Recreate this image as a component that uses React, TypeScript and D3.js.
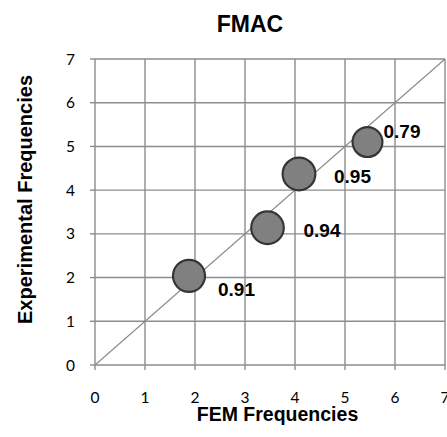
import React from 'react';
import * as d3 from 'd3';

// FEM vs experimental frequencies, bubble size = FMAC value
const femFreq = [1.88, 3.45, 4.08, 5.45];
const expFreq = [2.04, 3.14, 4.37, 5.10];
const fmacValues = [0.91, 0.94, 0.95, 0.79];
const fmacLabels = ['0.91', '0.94', '0.95', '0.79'];
const axisTicks = [0, 1, 2, 3, 4, 5, 6, 7];

// where each data label sits relative to its bubble
const labelOffsets = [
  [29, 20],
  [36, 9],
  [35, 9],
  [16, -4],
];

const W = 447;
const H = 437;
const margin = { top: 59, right: 2, bottom: 72, left: 95 };

export default function App() {
  const x = d3.scaleLinear().domain([0, 7]).range([margin.left, W - margin.right]);
  const y = d3.scaleLinear().domain([0, 7]).range([H - margin.bottom, margin.top]);
  const r = d3.scaleSqrt().domain([0, 1]).range([0, 16.8]);

  const gridColor = '#8c8c8c';
  const boldFont = '"Liberation Sans", Arial, sans-serif';
  const tickFont = 'Lato, "Open Sans", sans-serif';

  const diag = d3.line<number>()
    .x(d => x(d))
    .y(d => y(d));

  return (
    <svg width={W} height={H} style={{ position: 'absolute', left: 0, top: 0, background: '#fff' }}>
      {/* title */}
      <text x={250} y={31.5} textAnchor="middle" fontFamily={boldFont} fontWeight="bold" fontSize={23}>FMAC</text>

      {/* gridlines */}
      {axisTicks.map(t => (
        <line key={'gx' + t} x1={x(t)} x2={x(t)} y1={y(0)} y2={y(7)} stroke={gridColor} strokeWidth={1.4} />
      ))}
      {axisTicks.map(t => (
        <line key={'gy' + t} x1={x(0)} x2={x(7)} y1={y(t)} y2={y(t)} stroke={gridColor} strokeWidth={1.4} />
      ))}

      {/* tick marks */}
      {axisTicks.map(t => (
        <line key={'tx' + t} x1={x(t)} x2={x(t)} y1={y(0)} y2={y(0) + 5} stroke={gridColor} strokeWidth={1.4} />
      ))}
      {axisTicks.map(t => (
        <line key={'ty' + t} x1={x(0) - 5} x2={x(0)} y1={y(t)} y2={y(t)} stroke={gridColor} strokeWidth={1.4} />
      ))}

      {/* tick labels */}
      {axisTicks.map(t => (
        <text key={'lx' + t} x={x(t)} y={403} textAnchor="middle" fontFamily={tickFont} fontSize={15.5} fill="#000">{t}</text>
      ))}
      {axisTicks.map(t => (
        <text key={'ly' + t} x={75} y={y(t)} dy="0.36em" textAnchor="end" fontFamily={tickFont} fontSize={15.5} fill="#000">{t}</text>
      ))}

      {/* 1:1 line */}
      <path d={diag([0, 7]) || ''} stroke="#8a8a8a" strokeWidth={1.1} fill="none" />

      {/* bubbles */}
      {femFreq.map((f, i) => (
        <circle key={'b' + i} cx={x(f)} cy={y(expFreq[i])} r={r(fmacValues[i])}
          fill="#808080" stroke="#353535" strokeWidth={2.2} />
      ))}

      {/* data labels */}
      {femFreq.map((f, i) => (
        <text key={'dl' + i} x={x(f) + labelOffsets[i][0]} y={y(expFreq[i]) + labelOffsets[i][1]}
          fontFamily={boldFont} fontWeight="bold" fontSize={19} fill="#000">{fmacLabels[i]}</text>
      ))}

      {/* axis titles */}
      <text x={277.5} y={421} textAnchor="middle" fontFamily={boldFont} fontWeight="bold" fontSize={19.5}>FEM Frequencies</text>
      <text transform="translate(31.5,199.5) rotate(-90)" textAnchor="middle" fontFamily={boldFont} fontWeight="bold" fontSize={20}>
        Experimental  Frequencies
      </text>
    </svg>
  );
}
